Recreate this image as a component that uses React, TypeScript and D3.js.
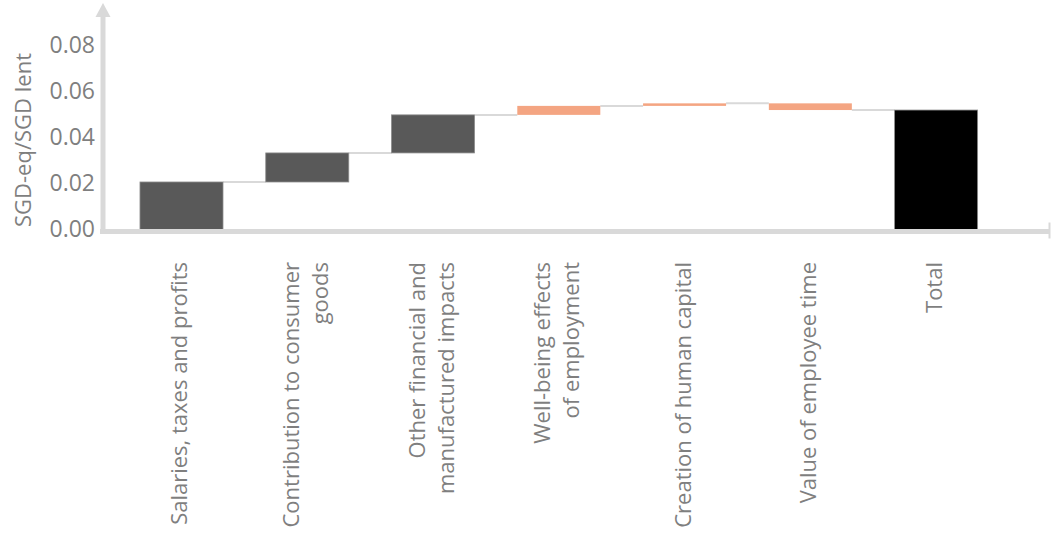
import React, { useEffect, useRef } from 'react';
import * as d3 from 'd3';

// waterfall data (SGD-eq per SGD lent)
const categories = [
  'Salaries, taxes and profits',
  'Contribution to consumer goods',
  'Other financial and manufactured impacts',
  'Well-being effects of employment',
  'Creation of human capital',
  'Value of employee time',
  'Total',
];
const labelLines = [
  ['Salaries, taxes and profits'],
  ['Contribution to consumer', 'goods'],
  ['Other financial and', 'manufactured impacts'],
  ['Well-being effects', 'of employment'],
  ['Creation of human capital'],
  ['Value of employee time'],
  ['Total'],
];
const increments = [0.0206, 0.0126, 0.0165, 0.0039, 0.0011, -0.0029, null];
const groups = ['financial', 'financial', 'financial', 'social', 'social', 'social', 'total'];
const yTicks = [0, 0.02, 0.04, 0.06, 0.08];

const App: React.FC = () => {
  const svgRef = useRef<SVGSVGElement>(null);

  useEffect(() => {
    if (!svgRef.current) return;
    const svg = d3.select(svgRef.current);
    svg.selectAll('*').remove();

    const W = 1051;
    const H = 536;
    svg.attr('width', W).attr('height', H);

    const font = "'Open Sans', sans-serif";
    const textColor = '#7f7f7f';
    const axisColor = '#d9d9d9';

    // running totals
    let run = 0;
    const rows = categories.map((c, i) => {
      const inc = increments[i];
      if (inc === null) {
        return { cat: c, start: 0, end: run, group: groups[i] };
      }
      const start = run;
      run += inc;
      return { cat: c, start, end: run, group: groups[i] };
    });

    const x = d3.scaleBand<string>()
      .domain(categories)
      .range([118.6, 999])
      .paddingInner(0.34)
      .paddingOuter(0.17);

    const y = d3.scaleLinear()
      .domain([0, 0.08])
      .range([229.5, 45]);

    const color = (g: string) =>
      g === 'financial' ? '#595959' : g === 'social' ? '#f4a582' : '#000000';

    // connectors
    svg.append('g')
      .selectAll('line')
      .data(rows.slice(0, -1))
      .join('line')
      .attr('x1', d => (x(d.cat) || 0) + x.bandwidth())
      .attr('x2', (d, i) => x(rows[i + 1].cat) || 0)
      .attr('y1', d => y(d.end))
      .attr('y2', d => y(d.end))
      .attr('stroke', axisColor)
      .attr('stroke-width', 2);

    // bars
    svg.append('g')
      .selectAll('rect')
      .data(rows)
      .join('rect')
      .attr('x', d => x(d.cat) || 0)
      .attr('width', x.bandwidth())
      .attr('y', d => y(Math.max(d.start, d.end)))
      .attr('height', d => Math.abs(y(d.start) - y(d.end)))
      .attr('fill', d => color(d.group))
      .attr('stroke', d => (d.group === 'social' ? 'none' : '#8c8c8c'))
      .attr('stroke-width', 0.8);

    // axes lines
    const x0 = 103;
    svg.append('line')
      .attr('x1', 100).attr('x2', 1049)
      .attr('y1', y(0) + 2).attr('y2', y(0) + 2)
      .attr('stroke', axisColor).attr('stroke-width', 5);
    svg.append('line')
      .attr('x1', 1049.5).attr('x2', 1049.5)
      .attr('y1', y(0) - 7).attr('y2', y(0) + 9)
      .attr('stroke', axisColor).attr('stroke-width', 2);
    svg.append('line')
      .attr('x1', x0).attr('x2', x0)
      .attr('y1', y(0) + 4.5).attr('y2', 16)
      .attr('stroke', axisColor).attr('stroke-width', 5);
    svg.append('path')
      .attr('d', `M${x0},3 L${x0 + 7.5},17 L${x0 - 7.5},17 Z`)
      .attr('fill', axisColor);

    // y tick labels
    const yAxis = svg.append('g')
      .attr('transform', 'translate(95,0)')
      .call(d3.axisLeft(y).tickValues(yTicks).tickSize(0).tickPadding(0).tickFormat(d3.format('.2f')));
    yAxis.select('.domain').remove();
    yAxis.selectAll('text')
      .attr('fill', textColor)
      .style('font-family', font)
      .style('font-size', '23px');

    // y title
    svg.append('text')
      .attr('transform', 'translate(31,140) rotate(-90)')
      .attr('text-anchor', 'middle')
      .attr('fill', textColor)
      .style('font-family', font)
      .style('font-size', '22px')
      .text('SGD-eq/SGD lent');

    // category labels (rotated)
    const lineH = 29;
    const labels = svg.append('g')
      .selectAll('g')
      .data(rows)
      .join('g');
    labels.each(function (d, i) {
      const lines = labelLines[i];
      const cx = (x(d.cat) || 0) + x.bandwidth() / 2;
      lines.forEach((ln, j) => {
        const bx = cx + 6 + (j - (lines.length - 1) / 2) * lineH;
        d3.select(this).append('text')
          .attr('transform', `translate(${bx},262) rotate(-90)`)
          .attr('text-anchor', 'end')
          .attr('fill', textColor)
          .style('font-family', font)
          .style('font-size', '22px')
          .text(ln);
      });
    });
  }, []);

  return (
    <div style={{ position: 'absolute', left: 0, top: 0, width: 1051, height: 536, background: '#fff' }}>
      <svg ref={svgRef} />
    </div>
  );
};

export default App;
